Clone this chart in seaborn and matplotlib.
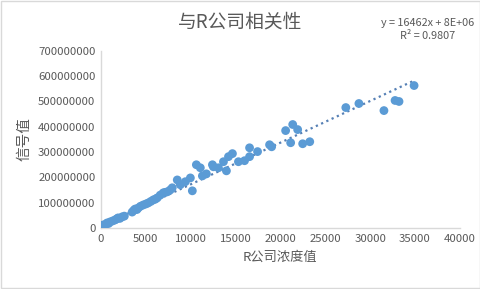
import matplotlib
matplotlib.use("Agg")
import matplotlib.pyplot as plt
import seaborn as sns
import numpy as np
import pandas as pd
from matplotlib.ticker import FuncFormatter, MultipleLocator

# ---- data ----
conc = [0, 100, 110, 220, 350, 500, 670, 850, 1000, 1300, 1570, 1750, 1900, 2100,
        2350, 2600, 3470, 3650, 3800, 4000, 4140, 4400, 4700, 5000,
        5260, 5550, 5820, 6050, 6260, 6600, 6940, 7150, 7380, 7700, 7940, 8500,
        8840, 9400, 9960, 10180,
        10630, 11070, 11300, 11750, 12420, 12530, 13090, 13650, 13980, 14210,
        14650, 15320, 16000, 16560, 16560, 17450, 18790, 19020, 20580, 21370,
        21920, 21140, 22480, 23270, 27290, 28750, 31540, 32780, 33220, 34900]
signal = [0, 4e6, 1e6, 12e6, 8e6, 14e6, 20e6, 18e6, 24e6, 28e6, 32e6, 36e6, 40e6, 38e6,
          44e6, 47e6, 63e6, 70e6, 75e6, 73e6, 79e6, 86e6, 91e6, 95e6,
          99e6, 105e6, 111e6, 114e6, 119e6, 130e6, 139e6, 141e6, 143e6, 150e6, 159e6, 190e6,
          171e6, 183e6, 198e6, 147e6,
          250e6, 238e6, 206e6, 214e6, 250e6, 242e6, 238e6, 262e6, 226e6, 282e6,
          294e6, 262e6, 266e6, 282e6, 317e6, 302e6, 329e6, 321e6, 385e6, 409e6,
          389e6, 337e6, 333e6, 341e6, 476e6, 492e6, 464e6, 504e6, 500e6, 563e6]
slope = 16462
intercept = 8e6
r2 = 0.9807

title = "与R公司相关性"
xlabel = "R公司浓度值"
ylabel = "信号值"

df = pd.DataFrame({"conc": conc, "signal": signal})

sns.set_theme(style="white")
plt.rcParams['font.family'] = ['Noto Sans CJK SC', 'DejaVu Sans']

fig = plt.figure(figsize=(4.81, 2.89), dpi=100)
ax = fig.add_axes([0.21, 0.211, 0.746, 0.613])

sns.scatterplot(data=df, x="conc", y="signal", ax=ax, color="#5B9BD5",
                s=40, edgecolor="none", linewidth=0, zorder=3)

xs = np.array([min(conc), max(conc)])
trend = pd.DataFrame({"x": xs, "y": slope * xs + intercept})
sns.lineplot(data=trend, x="x", y="y", ax=ax, color="#5680b5",
             linestyle=(0, (1, 1.6)), linewidth=1.6, zorder=2)

ax.set_xlim(0, 40000)
ax.set_ylim(0, 700000000)
ax.xaxis.set_major_locator(MultipleLocator(5000))
ax.yaxis.set_major_locator(MultipleLocator(100000000))
ax.yaxis.set_major_formatter(FuncFormatter(lambda v, p: f"{int(round(v))}"))
ax.xaxis.set_major_formatter(FuncFormatter(lambda v, p: f"{int(round(v))}"))

grey = "#595959"
ax.tick_params(axis="both", length=0, labelsize=8.2, labelcolor=grey, pad=4)
for s in ["top", "right"]:
    ax.spines[s].set_visible(False)
for s in ["left", "bottom"]:
    ax.spines[s].set_color("#d9d9d9")
    ax.spines[s].set_linewidth(1)
ax.grid(False)

ax.set_xlabel(xlabel, fontsize=9.5, color=grey, labelpad=5)
ax.set_ylabel(ylabel, fontsize=10.5, color=grey, labelpad=5)

fig.text(0.5, 0.925, title, ha="center", va="center", fontsize=13.5, color=grey)
fig.text(0.89, 0.92, f"y = {slope}x + 8E+06", ha="center", va="center",
         fontsize=7.8, color=grey)
fig.text(0.89, 0.875, f"R² = {r2}", ha="center", va="center",
         fontsize=7.8, color=grey)

fig.patches.append(plt.Rectangle((0.002, 0.003), 0.995, 0.994, transform=fig.transFigure,
                                 fill=False, edgecolor="#d9d9d9", linewidth=1))

fig.savefig("out.png", dpi=100)
